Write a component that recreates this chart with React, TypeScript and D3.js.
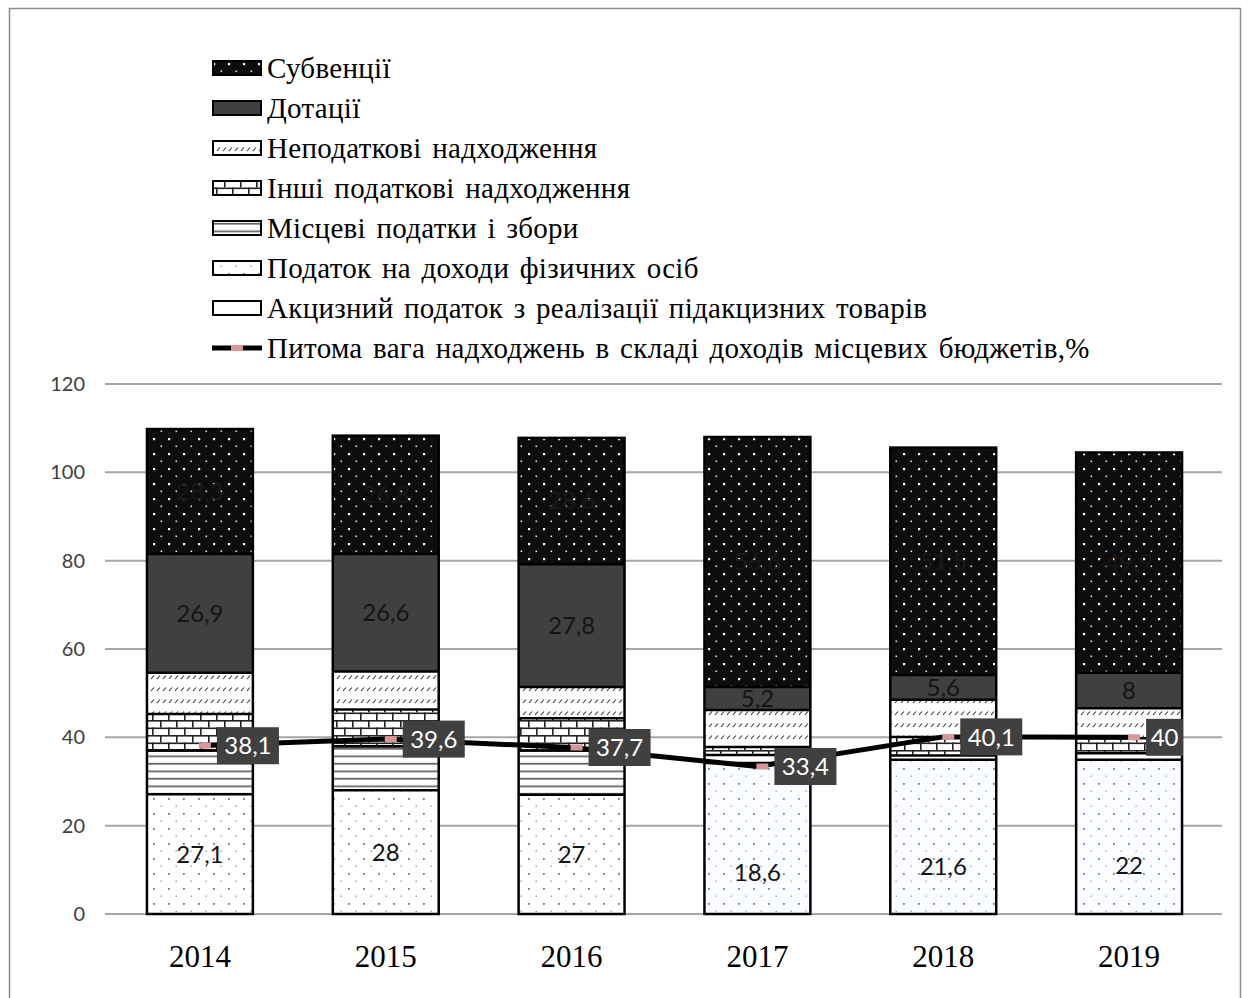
import React from 'react';
import * as d3 from 'd3';

const years = ['2014', '2015', '2016', '2017', '2018', '2019'];
const pdfo = [27.1, 28, 27, 18.6, 21.6, 22];
const localTaxes = [9.9, 10.0, 10.0, 15.6, 13.3, 12.9];
const excise = [0, 0, 0, 1.8, 1.0, 1.5];
const otherTaxes = [8.3, 8.3, 7.3, 1.8, 4.2, 3.4];
const nonTax = [9.3, 8.6, 7.1, 8.4, 8.4, 6.8];
const dotacii = [26.9, 26.6, 27.8, 5.2, 5.6, 8];
const subvencii = [28.3, 26.8, 28.6, 56.6, 51.5, 49.9];
const share = [38.1, 39.6, 37.7, 33.4, 40.1, 40];
const yTicks = [0, 20, 40, 60, 80, 100, 120];

const seriesNames = {
  subv: 'Субвенції',
  dot: 'Дотації',
  nontax: 'Неподаткові надходження',
  other: 'Інші податкові надходження',
  local: 'Місцеві податки і збори',
  pdfo: 'Податок на доходи фізичних осіб',
  excise: 'Акцизний податок з реалізації підакцизних товарів',
  line: 'Питома вага надходжень в складі доходів місцевих бюджетів,%',
};

// stack order bottom -> top
const stackSeries = [
  { key: 'pdfo', values: pdfo, label: true },
  { key: 'local', values: localTaxes, label: false },
  { key: 'excise', values: excise, label: false },
  { key: 'other', values: otherTaxes, label: false },
  { key: 'nontax', values: nonTax, label: false },
  { key: 'dot', values: dotacii, label: true },
  { key: 'subv', values: subvencii, label: true },
];

const legendOrder = ['subv', 'dot', 'nontax', 'other', 'local', 'pdfo', 'excise'];

const fills: Record<string, string> = {
  subv: 'url(#pSubv)',
  dot: '#404040',
  nontax: 'url(#pNontax)',
  other: 'url(#pBrick)',
  local: 'url(#pLines)',
  pdfo: 'url(#pDots)',
  pdfoBlue: 'url(#pDotsBlue)',
  excise: '#ffffff',
};

const fmt = (v: number) => String(v).replace('.', ',');

export default function App() {
  const W = 1250;
  const H = 998;
  const x0 = 107;
  const x1 = 1222;
  const y = d3.scaleLinear().domain([0, 120]).range([914, 384]);
  const x = d3.scaleBand<string>().domain(years).range([x0, x1]).paddingInner(0.43).paddingOuter(0.215);
  const bw = x.bandwidth();
  const cx = (yr: string) => (x(yr) as number) + bw / 2;

  // years where the local-tax segment continues the PDFO dotted fill
  const mergedYears = new Set(['2017', '2018', '2019']);

  const segKey = (key: string, yr: string) => {
    if (mergedYears.has(yr) && (key === 'pdfo' || key === 'local')) return 'pdfoBlue';
    return key;
  };

  const bars = years.map((yr, i) => {
    let acc = 0;
    const segs = stackSeries.map((s) => {
      const v = s.values[i];
      const seg = { key: s.key, fillKey: segKey(s.key, yr), y0: acc, y1: acc + v, v, label: s.label };
      acc += v;
      return seg;
    });
    return { yr, segs, total: acc };
  });

  const lineGen = d3
    .line<number>()
    .x((_, i) => cx(years[i]))
    .y((d) => y(d));

  const numFont = 'Lato, "Open Sans", sans-serif';
  const serif = '"Liberation Serif", "Times New Roman", serif';

  return (
    <svg width={W} height={H} style={{ position: 'absolute', left: 0, top: 0, background: '#fff' }}>
      <defs>
        <pattern id="pSubv" width="15" height="15" patternUnits="userSpaceOnUse">
          <rect width="15" height="15" fill="#0d0d0d" />
          <rect x="3" y="3" width="2.2" height="2.2" fill="#fff" />
          <rect x="10.5" y="10.5" width="1.6" height="1.6" fill="#e0e0e0" />
        </pattern>
        <pattern id="pDots" width="15" height="15" patternUnits="userSpaceOnUse">
          <rect width="15" height="15" fill="#fff" />
          <rect x="3" y="3" width="1.8" height="1.8" fill="#777" />
          <rect x="10.5" y="10.5" width="1.4" height="1.4" fill="#999" />
        </pattern>
        <pattern id="pDotsBlue" width="15" height="15" patternUnits="userSpaceOnUse">
          <rect width="15" height="15" fill="#fbfcff" />
          <rect x="3" y="3" width="1.8" height="1.8" fill="#6d83b0" />
          <rect x="10.5" y="10.5" width="1.4" height="1.4" fill="#9aa8c8" />
        </pattern>
        <pattern id="pLines" width="10" height="7.5" patternUnits="userSpaceOnUse">
          <rect width="10" height="7.5" fill="#fff" />
          <rect x="0" y="5.5" width="10" height="1.6" fill="#555" />
        </pattern>
        <pattern id="pBrick" width="16" height="15" patternUnits="userSpaceOnUse">
          <rect width="16" height="15" fill="#fff" />
          <rect x="0" y="0" width="16" height="1.6" fill="#222" />
          <rect x="0" y="7.5" width="16" height="1.6" fill="#222" />
          <rect x="0" y="0" width="1.6" height="7.5" fill="#222" />
          <rect x="8" y="7.5" width="1.6" height="7.5" fill="#222" />
        </pattern>
        <pattern id="pNontax" width="6" height="12" patternUnits="userSpaceOnUse">
          <rect width="6" height="12" fill="#fff" />
          <line x1="1" y1="7" x2="4" y2="3.5" stroke="#333" strokeWidth="1.1" />
        </pattern>
      </defs>

      {/* outer frame */}
      <rect x={9.5} y={8.5} width={1231} height={1000} fill="none" stroke="#8c8c8c" strokeWidth={1.5} />

      {/* gridlines + y axis labels */}
      {yTicks.map((t) => (
        <g key={t}>
          <line x1={105} x2={x1} y1={y(t)} y2={y(t)} stroke="#a6a6a6" strokeWidth={2} />
          <text x={85} y={y(t)} dy="0.35em" textAnchor="end" fontFamily={numFont} fontSize={20} fill="#404040">
            {t}
          </text>
        </g>
      ))}

      {/* bars */}
      {bars.map((b) => {
        const bx = x(b.yr) as number;
        return (
          <g key={b.yr}>
            {b.segs.map((s, j) =>
              s.v > 0 ? (
                <rect key={j} x={bx} y={y(s.y1)} width={bw} height={y(s.y0) - y(s.y1)} fill={fills[s.fillKey]} />
              ) : null
            )}
            {b.segs.map((s, j) => {
              const next = b.segs[j + 1];
              if (!next) return null;
              if (next.fillKey === s.fillKey) return null;
              return (
                <line key={'b' + j} x1={bx} x2={bx + bw} y1={y(s.y1)} y2={y(s.y1)} stroke="#000" strokeWidth={2.5} />
              );
            })}
            <rect x={bx} y={y(b.total)} width={bw} height={y(0) - y(b.total)} fill="none" stroke="#000" strokeWidth={2.5} />
            {b.segs.map((s, j) =>
              s.label ? (
                <text
                  key={'t' + j}
                  x={cx(b.yr)}
                  y={y((s.y0 + s.y1) / 2)}
                  dy="0.35em"
                  textAnchor="middle"
                  fontFamily={numFont}
                  fontSize={24}
                  fill={s.key === 'subv' ? '#191919' : '#141414'}
                >
                  {fmt(s.v)}
                </text>
              ) : null
            )}
          </g>
        );
      })}

      {/* line */}
      <path d={lineGen(share) as string} fill="none" stroke="#000" strokeWidth={5} />
      {share.map((v, i) => (
        <rect key={'m' + i} x={cx(years[i]) - 1} y={y(v) - 3} width={12} height={6} fill="#d99694" />
      ))}
      {share.map((v, i) => {
        const txt = fmt(v);
        const tw = txt.length * 12.5 + 12;
        const lx = cx(years[i]) + 17;
        return (
          <g key={'l' + i}>
            <rect x={lx} y={y(v) - 18.5} width={tw} height={37} fill="#404040" />
            <text x={lx + tw / 2} y={y(v)} dy="0.36em" textAnchor="middle" fontFamily={numFont} fontSize={24} fill="#fff">
              {txt}
            </text>
          </g>
        );
      })}

      {/* x axis labels */}
      {years.map((yr) => (
        <text key={yr} x={cx(yr)} y={967} textAnchor="middle" fontFamily={serif} fontSize={31} fill="#000">
          {yr}
        </text>
      ))}

      {/* legend */}
      {legendOrder.map((k, i) => {
        const ly = 68 + i * 40;
        return (
          <g key={k}>
            <rect x={213} y={ly - 7} width={48} height={14} fill={fills[k]} stroke="#000" strokeWidth={2} />
            <text x={267} y={ly} dy="0.33em" fontFamily={serif} fontSize={29} letterSpacing={0.3} wordSpacing={3} fill="#000">
              {seriesNames[k as keyof typeof seriesNames]}
            </text>
          </g>
        );
      })}
      <g>
        <line x1={212} x2={262} y1={348} y2={348} stroke="#000" strokeWidth={5} />
        <rect x={231} y={345} width={12} height={6} fill="#d99694" />
        <text x={267} y={348} dy="0.33em" fontFamily={serif} fontSize={29} letterSpacing={0.3} wordSpacing={3} fill="#000">
          {seriesNames.line}
        </text>
      </g>
    </svg>
  );
}
